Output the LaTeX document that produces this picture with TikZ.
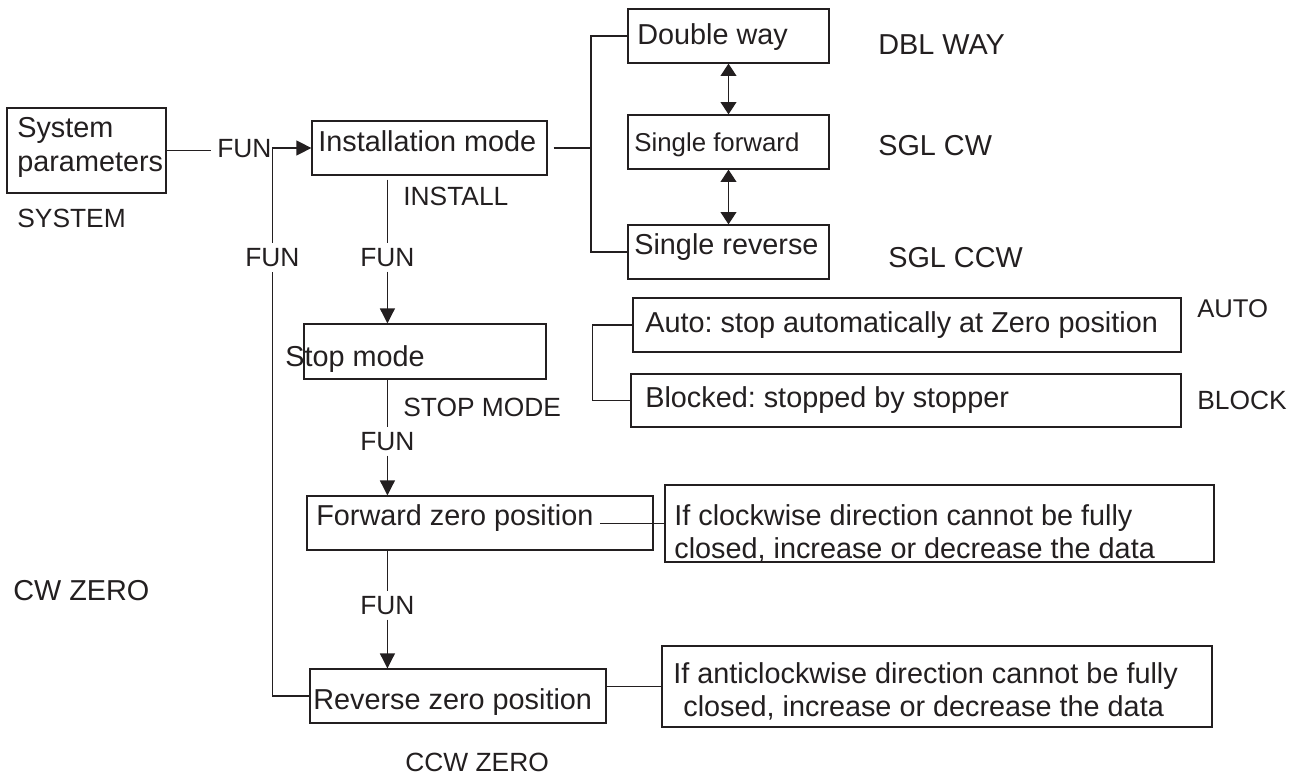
\documentclass[tikz,border=0pt]{standalone}
\usepackage{fontspec}
\setmainfont{Liberation Sans}
\usetikzlibrary{fit,arrows.meta}
\definecolor{ink}{HTML}{231F20}
\frenchspacing
\tikzset{
  box/.style={draw=ink, line width=0.7pt, inner sep=0pt},
  txt/.style={inner sep=0pt, anchor=base west, text=ink, font=\fontsize{16.4}{19}\selectfont},
  lbl/.style={txt, font=\fontsize{15}{18}\selectfont},
  small/.style={txt, font=\fontsize{14.7}{18}\selectfont},
  two/.style={inner sep=0pt, anchor=north west, align=left, text=ink, font=\fontsize{16.4}{18.7}\selectfont},
  funlbl/.style={inner xsep=0pt, inner ysep=0.1cm, anchor=base west, text=ink, font=\fontsize{15}{18}\selectfont},
  conn/.style={draw=ink, line width=0.7pt},
  arr/.style={conn, -{Triangle[length=8.5pt,width=8.5pt]}},
  darr/.style={conn, {Triangle[length=7pt,width=9pt]}-{Triangle[length=7pt,width=9pt]}},
}
\begin{document}
\begin{tikzpicture}[x=0.02cm,y=-0.02cm]
\useasboundingbox (0,0) rectangle (1299,777);
% system
\node[box, fit={(7,108) (166,193)}] (sys) {};
\node[two, font=\fontsize{16.4}{19.3}\selectfont] (syst) at (17,117) {System\\parameters};
\node[lbl] (sysl) at (17,228) {SYSTEM};
\node[funlbl] (fun0) at (217,157) {FUN};
% installation
\node[box, fit={(312,121) (547,175)}] (inst) {};
\node[txt] (instt) at (318,152) {Installation mode};
\node[lbl] (instl) at (403,205) {INSTALL};
\node[funlbl] (fun1) at (245,266) {FUN};
\node[funlbl] (fun2) at (360,266) {FUN};
% installation options
\node[box, fit={(628,9) (829,63)}] (dbl) {};
\node[txt] (dblt) at (637,45) {Double way};
\node[box, fit={(628,115) (829,169)}] (sfw) {};
\node[small] (sfwt) at (634,152) {Single forward};
\node[box, fit={(628,225) (829,279)}] (srev) {};
\node[txt] (srevt) at (634,255) {Single reverse};
\node[txt] (dbll) at (878,55) {DBL WAY};
\node[txt] (sgcw) at (878,155) {SGL CW};
\node[txt] (sgccw) at (888,267) {SGL CCW};
% stop mode
\node[box, fit={(304,324) (546,379)}] (stop) {};
\node[txt] (stopt) at (285,366) {Stop mode};
\node[lbl] (stopl) at (403,416) {STOP MODE};
\node[box, fit={(633,298) (1181,352)}] (auto) {};
\node[txt] (autot) at (645,332) {Auto: stop automatically at Zero position};
\node[box, fit={(631,374) (1181,427)}] (blk) {};
\node[txt] (blkt) at (645,407) {Blocked: stopped by stopper};
\node[lbl, font=\fontsize{14.6}{18}\selectfont] (autol) at (1197,317) {AUTO};
\node[lbl] (blkl) at (1197,409) {BLOCK};
\node[funlbl] (fun3) at (360,450) {FUN};
% forward zero
\node[box, fit={(307,496) (653,550)}] (fwd) {};
\node[txt] (fwdt) at (316,525) {Forward zero position};
\node[box, fit={(665,485) (1214,562)}] (cwb) {};
\node[two] (cwbt) at (674,504) {If clockwise direction cannot be fully\\closed, increase or decrease the data};
\node[txt] (cwl) at (13,600) {CW ZERO};
\node[funlbl] (fun4) at (360,614) {FUN};
% reverse zero
\node[box, fit={(310,669) (606,723)}] (rev) {};
\node[txt] (revt) at (313,709) {Reverse zero position};
\node[box, fit={(662,646) (1212,727)}] (acwb) {};
\node[two] (acwbt) at (673,662) {If anticlockwise direction cannot be fully\\\hspace*{0.2cm}closed, increase or decrease the data};
\node[lbl] (ccwl) at (405,771) {CCW ZERO};
% connectors
\draw[conn] (sys.east) -- ++(44,0);
\draw[arr] (fun1) -- (fun1 |- inst.west) -- (inst.west);
\draw[conn] (rev.west) -| (fun1);
\draw[conn] ([yshift=-0.08cm]inst.south -| fun2) -- (fun2);
\draw[arr] (fun2) -- (fun2 |- stop.north);
\draw[conn] (stop.south -| fun3) -- (fun3);
\draw[arr] (fun3) -- (fun3 |- fwd.north);
\draw[conn] (fwd.south -| fun4) -- (fun4);
\draw[arr] (fun4) -- (fun4 |- rev.north);
\coordinate (brk) at (591,148);
\draw[conn] ([xshift=0.12cm]inst.east) -- (brk);
\draw[conn] (dbl.west) -| (brk) |- (srev.west);
\draw[darr] (dbl.south) -- (sfw.north);
\draw[darr] (sfw.south) -- (srev.north);
\draw[conn] (auto.west) -- ++(-40,0) |- (blk.west);
\draw[conn] ([xshift=0.12cm]fwdt.east |- cwb.west) -- (cwb.west);
\draw[conn] (rev.east |- acwb.west) -- (acwb.west);
\end{tikzpicture}
\end{document}
